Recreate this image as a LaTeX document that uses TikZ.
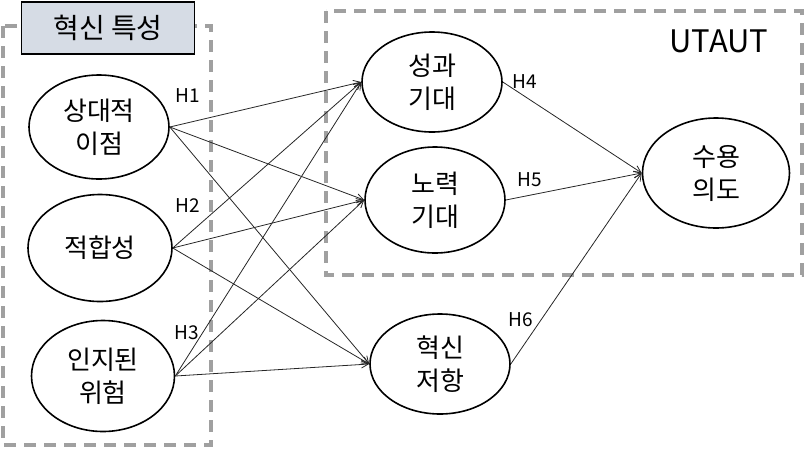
\documentclass[tikz,border=0pt]{standalone}
\usepackage{fontspec}
\setmainfont{Noto Sans CJK KR}
\usepackage{tikz}
\usetikzlibrary{shapes.geometric,arrows.meta,positioning}

\definecolor{titlefill}{RGB}{214,220,229}
\definecolor{dashgray}{RGB}{160,160,160}

\begin{document}
\begin{tikzpicture}[x=1pt,y=-1pt,
      latent/.style = {ellipse, draw=black, line width=1.6pt,
                       minimum width=140pt, minimum height=104pt,
                       inner sep=0pt, align=center,
                       font=\fontsize{26}{33}\selectfont},
      group/.style  = {draw=dashgray, line width=3.2pt,
                       dash pattern=on 12pt off 8pt},
      title/.style  = {rectangle, draw=black, line width=1.8pt, fill=titlefill,
                       minimum width=173pt, minimum height=52pt,
                       font=\fontsize{28}{30}\selectfont},
      path/.style   = {-{Straight Barb[length=7pt,width=7pt]}, line width=0.8pt, black!85},
      hyp/.style    = {font=\fontsize{19}{22}\selectfont}
    ]
    \useasboundingbox (0,0) rectangle (804,448);

    \draw[group] (3,26) rectangle (211,445);
    \draw[group] (326,11) rectangle (802,275);
    \node[title] (inno) at (108,28) {혁신 특성};
    \node[font=\fontsize{31}{34}\selectfont] (utaut) at (719,41) {UTAUT};

    \node[latent] (rel)    at (99,127)  {상대적\\이점};
    \node[latent, minimum width=144pt, minimum height=107pt] (fit) at (100,248) {적합성};
    \node[latent, minimum width=143pt, minimum height=111pt] (risk) at (103,376) {인지된\\위험};

    \node[latent, minimum height=100pt] (perf)   at (432,82)  {성과\\기대};
    \node[latent, minimum height=106pt] (effort) at (435,200) {노력\\기대};
    \node[latent, minimum height=100pt] (resist) at (440,364) {혁신\\저항};
    \node[latent, minimum width=147pt, minimum height=110pt] (intent) at (716,173) {수용\\의도};

    \node[hyp] (h1) at (188,96)  {H1};
    \node[hyp] (h2) at (188,206) {H2};
    \node[hyp] (h3) at (187,333) {H3};
    \node[hyp] (h4) at (525,82)  {H4};
    \node[hyp] (h5) at (530,180) {H5};
    \node[hyp] (h6) at (521,320) {H6};

    \draw[path] (rel.east)  -- (perf.west);
    \draw[path] (rel.east)  -- (effort.west);
    \draw[path] (rel.east)  -- (resist.west);
    \draw[path] (fit.east)  -- (perf.west);
    \draw[path] (fit.east)  -- (effort.west);
    \draw[path] (fit.east)  -- (resist.west);
    \draw[path] (risk.east) -- (perf.west);
    \draw[path] (risk.east) -- (effort.west);
    \draw[path] (risk.east) -- (resist.west);
    \draw[path] (perf.east)   -- (intent.west);
    \draw[path] (effort.east) -- (intent.west);
    \draw[path] (resist.east) -- (intent.west);
  \end{tikzpicture}
\end{document}
